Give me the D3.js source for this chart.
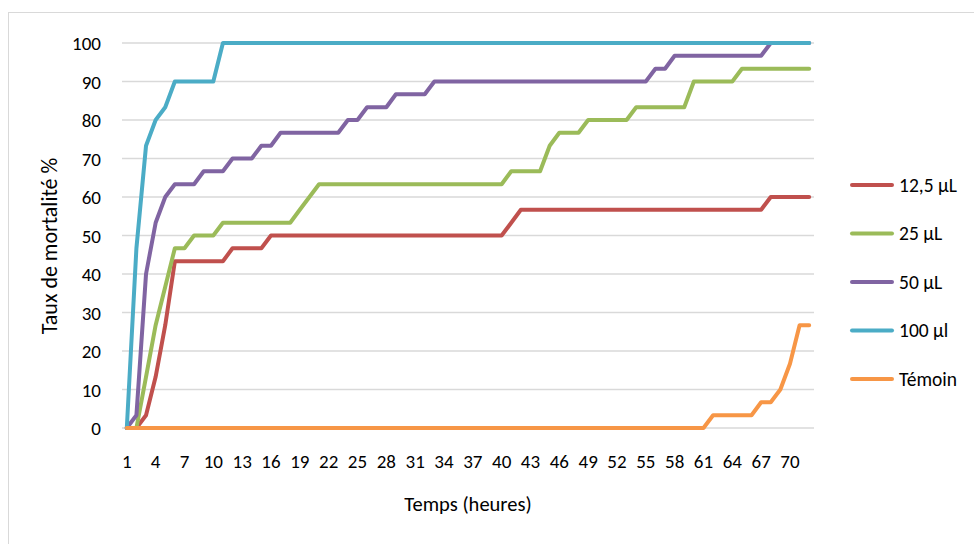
<!DOCTYPE html>
<html>
<head>
<meta charset="utf-8">
<script src="https://cdn.jsdelivr.net/npm/d3@7"></script>
<style>
  html, body { margin: 0; padding: 0; background: #fff; }
  svg { display: block; }
  text { font-family: Carlito, Lato, "Open Sans", sans-serif; fill: #000; }
</style>
</head>
<body>
<svg id="chart" width="974" height="544"></svg>
<script>
// ---- Data ----
const hours = d3.range(1, 73);
const xTickLabels = d3.range(1, 73, 3);
const yTicks = [0, 10, 20, 30, 40, 50, 60, 70, 80, 90, 100];
const seriesNames = ["12,5 µL", "25 µL", "50 µL", "100 µl", "Témoin"];
const seriesColors = ["#C0504D", "#9BBB59", "#8064A2", "#4BACC6", "#F79646"];

// values for hours 1..72
const s125 = [0, 0, 3.3, 13.3, 26.7, 43.3, 43.3, 43.3, 43.3, 43.3, 43.3, 46.7, 46.7, 46.7, 46.7,
  50, 50, 50, 50, 50, 50, 50, 50, 50, 50, 50, 50, 50, 50, 50, 50, 50, 50, 50, 50, 50, 50, 50, 50, 50,
  53.3, 56.7, 56.7, 56.7, 56.7, 56.7, 56.7, 56.7, 56.7, 56.7, 56.7, 56.7, 56.7, 56.7, 56.7, 56.7, 56.7,
  56.7, 56.7, 56.7, 56.7, 56.7, 56.7, 56.7, 56.7, 56.7, 56.7, 60, 60, 60, 60, 60];
const s25 = [0, 0, 13.3, 26.7, 36.7, 46.7, 46.7, 50, 50, 50, 53.3, 53.3, 53.3, 53.3, 53.3, 53.3, 53.3, 53.3,
  56.7, 60, 63.3, 63.3, 63.3, 63.3, 63.3, 63.3, 63.3, 63.3, 63.3, 63.3, 63.3, 63.3, 63.3, 63.3, 63.3, 63.3,
  63.3, 63.3, 63.3, 63.3, 66.7, 66.7, 66.7, 66.7, 73.3, 76.7, 76.7, 76.7, 80, 80, 80, 80, 80,
  83.3, 83.3, 83.3, 83.3, 83.3, 83.3, 90, 90, 90, 90, 90, 93.3, 93.3, 93.3, 93.3, 93.3, 93.3, 93.3, 93.3];
const s50 = [0, 3.3, 40, 53.3, 60, 63.3, 63.3, 63.3, 66.7, 66.7, 66.7, 70, 70, 70, 73.3, 73.3,
  76.7, 76.7, 76.7, 76.7, 76.7, 76.7, 76.7, 80, 80, 83.3, 83.3, 83.3, 86.7, 86.7, 86.7, 86.7,
  90, 90, 90, 90, 90, 90, 90, 90, 90, 90, 90, 90, 90, 90, 90, 90, 90, 90, 90, 90, 90, 90, 90,
  93.3, 93.3, 96.7, 96.7, 96.7, 96.7, 96.7, 96.7, 96.7, 96.7, 96.7, 96.7, 100, 100, 100, 100, 100];
const s100 = [0, 46.7, 73.3, 80, 83.3, 90, 90, 90, 90, 90, 100, 100, 100, 100, 100, 100, 100, 100,
  100, 100, 100, 100, 100, 100, 100, 100, 100, 100, 100, 100, 100, 100, 100, 100, 100, 100, 100, 100,
  100, 100, 100, 100, 100, 100, 100, 100, 100, 100, 100, 100, 100, 100, 100, 100, 100, 100, 100, 100,
  100, 100, 100, 100, 100, 100, 100, 100, 100, 100, 100, 100, 100, 100];
const sTemoin = [0, 0, 0, 0, 0, 0, 0, 0, 0, 0, 0, 0, 0, 0, 0, 0, 0, 0, 0, 0, 0, 0, 0, 0, 0, 0, 0, 0, 0, 0,
  0, 0, 0, 0, 0, 0, 0, 0, 0, 0, 0, 0, 0, 0, 0, 0, 0, 0, 0, 0, 0, 0, 0, 0, 0, 0, 0, 0, 0, 0, 0,
  3.3, 3.3, 3.3, 3.3, 3.3, 6.7, 6.7, 10, 16.7, 26.7, 26.7];
const seriesValues = [s125, s25, s50, s100, sTemoin];

// ---- Chart ----
const svg = d3.select("#chart");

// outer border
svg.append("rect").attr("x", 8.5).attr("y", 12.5).attr("width", 980).attr("height", 540)
  .attr("fill", "none").attr("stroke", "#d9d9d9").attr("stroke-width", 1);

const x = d3.scaleBand().domain(hours).range([122, 814]);
const xc = h => x(h) + x.bandwidth() / 2;
const y = d3.scaleLinear().domain([0, 100]).range([428, 43]);

// gridlines
svg.append("g").selectAll("line").data(yTicks).join("line")
  .attr("x1", 122).attr("x2", 814)
  .attr("y1", d => y(d)).attr("y2", d => y(d))
  .attr("stroke", "#d9d9d9").attr("stroke-width", 1.5);

const tickFont = "19px";

// y axis
const yAxis = svg.append("g").attr("transform", "translate(101,0)")
  .call(d3.axisLeft(y).tickValues(yTicks).tickSize(0).tickPadding(0));
yAxis.select(".domain").remove();
yAxis.selectAll("text").style("font-size", tickFont).style("font-family", null)
  .attr("dy", "0.35em").attr("fill", "#000");

// x axis
const xAxis = svg.append("g").attr("transform", "translate(0,454)")
  .call(d3.axisBottom(x).tickValues(xTickLabels).tickSize(0).tickPadding(0));
xAxis.select(".domain").remove();
xAxis.selectAll("text").style("font-size", tickFont).style("font-family", null)
  .attr("dy", "0.71em").attr("fill", "#000");

// axis titles
svg.append("text").attr("x", 468).attr("y", 511).attr("text-anchor", "middle")
  .style("font-size", "20.5px").text("Temps (heures)");
svg.append("text").attr("transform", "translate(57,246) rotate(-90)").attr("text-anchor", "middle")
  .style("font-size", "22px").text("Taux de mortalité %");

// lines
const line = d3.line().x((d, i) => xc(hours[i])).y(d => y(d));
svg.append("g").selectAll("path").data(seriesValues).join("path")
  .attr("d", d => line(d))
  .attr("fill", "none")
  .attr("stroke", (d, i) => seriesColors[i])
  .attr("stroke-width", 4)
  .attr("stroke-linejoin", "round")
  .attr("stroke-linecap", "round");

// legend
const legY = d3.scalePoint().domain(seriesNames).range([185, 379]);
const leg = svg.append("g").selectAll("g").data(seriesNames).join("g")
  .attr("transform", d => `translate(0,${legY(d)})`);
leg.append("line").attr("x1", 852).attr("x2", 892).attr("y1", 0).attr("y2", 0)
  .attr("stroke", (d, i) => seriesColors[i]).attr("stroke-width", 4).attr("stroke-linecap", "round");
leg.append("text").attr("x", 899).attr("y", 0).attr("dy", "0.35em")
  .style("font-size", "19.5px").text(d => d);
</script>
</body>
</html>
